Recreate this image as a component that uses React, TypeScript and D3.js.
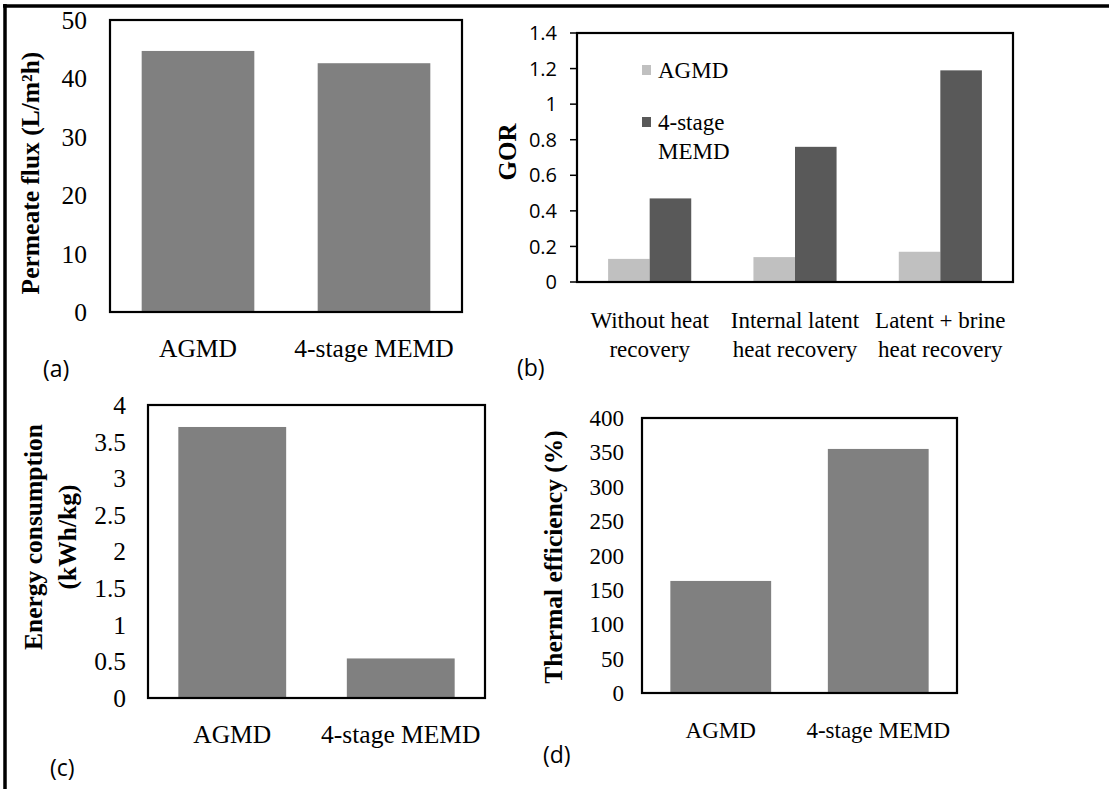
import React, { useEffect, useRef } from 'react';
import * as d3 from 'd3';

// (a) permeate flux
const systems = ["AGMD", "4-stage MEMD"];
const fluxValues = [44.7, 42.6];
const fluxTicks = [0, 10, 20, 30, 40, 50];

// (b) GOR
const gorCategories = [["Without heat", "recovery"], ["Internal latent", "heat recovery"], ["Latent + brine", "heat recovery"]];
const gorSeries = ["AGMD", "4-stage MEMD"];
const gorAgmd = [0.13, 0.14, 0.17];
const gorMemd = [0.47, 0.76, 1.19];
const gorTicks = [0, 0.2, 0.4, 0.6, 0.8, 1, 1.2, 1.4];

// (c) energy consumption
const energyValues = [3.7, 0.54];
const energyTicks = [0, 0.5, 1, 1.5, 2, 2.5, 3, 3.5, 4];

// (d) thermal efficiency
const efficiencyValues = [163, 355];
const efficiencyTicks = [0, 50, 100, 150, 200, 250, 300, 350, 400];

const SERIF = '"Liberation Serif", "Times New Roman", serif';
const SANS = '"Open Sans", "Noto Sans", sans-serif';

const drawSingle = (svg, opt) => {
    const g = svg.append("g");
    const x = d3.scaleBand().domain(systems).range([opt.left, opt.right]);
    const y = d3.scaleLinear().domain([0, opt.ticks[opt.ticks.length - 1]]).range([opt.bottom, opt.top]);
    const bw = x.bandwidth() * 0.64;

    g.selectAll("rect.bar")
        .data(opt.values)
        .enter().append("rect")
        .attr("x", (d, i) => x(systems[i]) + (x.bandwidth() - bw) / 2)
        .attr("y", d => y(d))
        .attr("width", bw)
        .attr("height", d => y(0) - y(d))
        .attr("fill", "#808080");

    g.append("rect")
        .attr("x", opt.left).attr("y", opt.top)
        .attr("width", opt.right - opt.left).attr("height", opt.bottom - opt.top)
        .attr("fill", "none").attr("stroke", "#000").attr("stroke-width", 2.2);

    g.selectAll("text.tick")
        .data(opt.ticks)
        .enter().append("text")
        .attr("x", opt.tickRight)
        .attr("y", d => y(d))
        .attr("dy", "0.35em")
        .attr("text-anchor", "end")
        .style("font-family", SERIF)
        .style("font-size", opt.fontSize + "px")
        .text(d => String(d));

    g.selectAll("text.cat")
        .data(systems)
        .enter().append("text")
        .attr("x", d => x(d) + x.bandwidth() / 2)
        .attr("y", opt.catY)
        .attr("text-anchor", "middle")
        .style("font-family", SERIF)
        .style("font-size", opt.fontSize + "px")
        .text(d => d);

    opt.yLabel.forEach(l => {
        g.append("text")
            .attr("transform", `translate(${l.x},${opt.yLabelY}) rotate(-90)`)
            .attr("text-anchor", "middle")
            .attr("dy", "0.35em")
            .style("font-family", SERIF)
            .style("font-weight", "bold")
            .style("font-size", "25.5px")
            .text(l.text);
    });

    g.append("text")
        .attr("x", opt.tag[0]).attr("y", opt.tag[1])
        .style("font-family", SANS)
        .style("font-size", "23px")
        .text(opt.tag[2]);
};

const drawGor = (svg) => {
    const left = 577, right = 1013, top = 33, bottom = 282;
    const g = svg.append("g");
    const x = d3.scaleBand().domain(d3.range(gorCategories.length)).range([left, right]);
    const y = d3.scaleLinear().domain([0, 1.4]).range([bottom, top]);
    const colors = d3.scaleOrdinal().domain(gorSeries).range(["#c0c0c0", "#595959"]);
    const bw = x.bandwidth() * 0.286;
    const rows = gorCategories.map((c, i) => [gorAgmd[i], gorMemd[i]]);

    g.selectAll("g.grp")
        .data(rows)
        .enter().append("g")
        .attr("transform", (d, i) => `translate(${x(i) + x.bandwidth() / 2 - bw},0)`)
        .selectAll("rect")
        .data(d => d)
        .enter().append("rect")
        .attr("x", (d, j) => j * bw)
        .attr("y", d => y(d))
        .attr("width", bw)
        .attr("height", d => y(0) - y(d))
        .attr("fill", (d, j) => colors(gorSeries[j]));

    g.append("rect")
        .attr("x", left).attr("y", top)
        .attr("width", right - left).attr("height", bottom - top)
        .attr("fill", "none").attr("stroke", "#000").attr("stroke-width", 2.2);

    g.selectAll("line.tk")
        .data(gorTicks)
        .enter().append("line")
        .attr("x1", left - 7).attr("x2", left)
        .attr("y1", d => y(d)).attr("y2", d => y(d))
        .attr("stroke", "#000").attr("stroke-width", 1.5);

    g.selectAll("text.tick")
        .data(gorTicks)
        .enter().append("text")
        .attr("x", 557)
        .attr("y", d => y(d))
        .attr("dy", "0.36em")
        .attr("text-anchor", "end")
        .style("font-family", SANS)
        .style("font-size", "20px")
        .text(d => String(d));

    const cat = g.selectAll("text.cat")
        .data(gorCategories)
        .enter().append("text")
        .attr("text-anchor", "middle")
        .style("font-family", SERIF)
        .style("font-size", "23px");
    cat.append("tspan")
        .attr("x", (d, i) => x(i) + x.bandwidth() / 2)
        .attr("y", 328)
        .text(d => d[0]);
    cat.append("tspan")
        .attr("x", (d, i) => x(i) + x.bandwidth() / 2)
        .attr("y", 357)
        .text(d => d[1]);

    g.append("text")
        .attr("transform", `translate(507,152) rotate(-90)`)
        .attr("text-anchor", "middle")
        .attr("dy", "0.35em")
        .style("font-family", SERIF)
        .style("font-weight", "bold")
        .style("font-size", "25px")
        .text("GOR");

    // legend
    const legendRows = [["AGMD"], ["4-stage", "MEMD"]];
    const legendY = [70, 122];
    legendRows.forEach((lines, i) => {
        g.append("rect")
            .attr("x", 642).attr("y", legendY[i] - 5)
            .attr("width", 9).attr("height", 10)
            .attr("fill", colors(gorSeries[i]));
        lines.forEach((t, k) => {
            g.append("text")
                .attr("x", 658).attr("y", legendY[i] + 8 + k * 29)
                .style("font-family", SERIF)
                .style("font-size", "23px")
                .text(t);
        });
    });

    g.append("text")
        .attr("x", 517).attr("y", 376)
        .style("font-family", SANS)
        .style("font-size", "23px")
        .text("(b)");
};

const App = () => {
    const ref = useRef(null);

    useEffect(() => {
        const svg = d3.select(ref.current);
        svg.selectAll("*").remove();

        // outer frame (top and left edges)
        svg.append("line").attr("x1", 3).attr("x2", 1109).attr("y1", 6).attr("y2", 6)
            .attr("stroke", "#000").attr("stroke-width", 3.5);
        svg.append("line").attr("x1", 5).attr("x2", 5).attr("y1", 4).attr("y2", 789)
            .attr("stroke", "#000").attr("stroke-width", 3.5);

        drawSingle(svg, {
            left: 110, right: 462, top: 20, bottom: 312,
            values: fluxValues, ticks: fluxTicks, tickRight: 87, catY: 357, fontSize: 25.5,
            yLabel: [{ text: "Permeate flux (L/m²h)", x: 30 }], yLabelY: 173,
            tag: [43, 377, "(a)"]
        });
        drawGor(svg);
        drawSingle(svg, {
            left: 148, right: 485, top: 405, bottom: 698,
            values: energyValues, ticks: energyTicks, tickRight: 126, catY: 743, fontSize: 25.5,
            yLabel: [{ text: "Energy consumption", x: 33 }, { text: "(kWh/kg)", x: 67 }], yLabelY: 537,
            tag: [50, 776, "(c)"]
        });
        drawSingle(svg, {
            left: 642, right: 957, top: 418, bottom: 693,
            values: efficiencyValues, ticks: efficiencyTicks, tickRight: 624, catY: 738, fontSize: 23,
            yLabel: [{ text: "Thermal efficiency (%)", x: 553 }], yLabelY: 557,
            tag: [543, 763, "(d)"]
        });
    });

    return (
        <svg ref={ref} width="1109" height="789"
            style={{ position: "absolute", left: 0, top: 0, background: "#fff" }}></svg>
    );
};

export default App;
